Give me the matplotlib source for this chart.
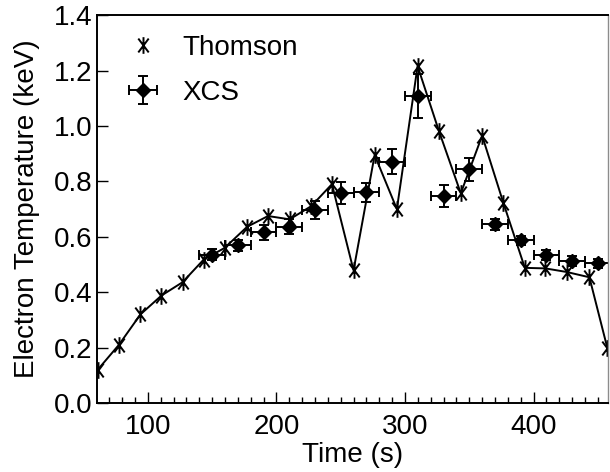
import numpy as np
import matplotlib
matplotlib.use('Agg')
import matplotlib.pyplot as plt
from matplotlib.path import Path
from matplotlib.ticker import MultipleLocator

"""Thomson scattering"""
thomson_t = [61, 77.5, 94.3, 110.6, 127, 143.5, 159.8, 177.2, 193.5, 210.3, 227.2, 243.2, 260,
             276.4, 293.7, 309.8, 326.3, 343.4, 360, 376.6, 393.2, 409.2, 425.8, 443.4, 457.4]
thomson_te = [0.12, 0.21, 0.32, 0.388, 0.436, 0.518, 0.56, 0.636, 0.675, 0.663, 0.711, 0.79, 0.479,
              0.895, 0.70, 1.216, 0.983, 0.757, 0.965, 0.721, 0.488, 0.486, 0.473, 0.454, 0.198]

"""XCS"""
xcs_t = [150, 170, 190, 210, 230, 250, 270, 290, 310, 330, 350, 370, 390, 410, 430, 450]
xcs_te = [0.536, 0.569, 0.617, 0.636, 0.697, 0.757, 0.76, 0.871, 1.108, 0.748, 0.844, 0.645,
          0.587, 0.534, 0.512, 0.504]
xcs_err = [0.02, 0.02, 0.027, 0.027, 0.032, 0.039, 0.033, 0.045, 0.078, 0.04, 0.041, 0.021,
           0.017, 0.017, 0.017, 0.017]
xcs_terr = [10] * len(xcs_t)

plt.rcParams['font.family'] = ['Liberation Sans', 'DejaVu Sans']
plt.rcParams['font.size'] = 20

# asterisk-like marker: X with a vertical stroke
verts = [(-0.75, -1), (0.75, 1), (-0.75, 1), (0.75, -1), (0, -1.2), (0, 1.2)]
codes = [Path.MOVETO, Path.LINETO] * 3
star = Path(verts, codes)

fig = plt.figure(figsize=(6.1, 4.72), dpi=100)
ax = fig.add_axes([0.159, 0.146, 0.838, 0.822])

ax.plot(thomson_t, thomson_te, color='black', lw=1.4)
ax.plot(thomson_t, thomson_te, ls='none', marker=star, ms=12, mec='black', mew=1.4,
        color='black', label='Thomson')
ax.errorbar(xcs_t, xcs_te, xerr=xcs_terr, yerr=xcs_err, fmt='D', ms=7, color='black',
            ecolor='black', elinewidth=1.4, capsize=3.5, capthick=1.4, label='XCS')

ax.set_xlim(60.5, 458)
ax.set_ylim(0, 1.4)
ax.xaxis.set_major_locator(MultipleLocator(100))
ax.xaxis.set_minor_locator(MultipleLocator(10))
ax.yaxis.set_major_locator(MultipleLocator(0.2))
ax.yaxis.set_major_formatter(matplotlib.ticker.FormatStrFormatter('%.1f'))
ax.tick_params(which='both', direction='in', top=False, right=False, width=1)
ax.tick_params(which='major', length=8)
ax.tick_params(which='minor', length=4)
ax.tick_params(axis='x', pad=8)
ax.tick_params(axis='y', pad=3)
for s in ax.spines.values():
    s.set_linewidth(1.4)
ax.spines['right'].set_linewidth(1)
ax.spines['right'].set_color('0.55')

ax.set_xlabel('Time (s)', labelpad=1)
ax.set_ylabel('Electron Temperature (keV)', labelpad=10)

ax.legend(loc='upper left', frameon=False, bbox_to_anchor=(0.02, 1.0), handlelength=1.2,
          handletextpad=0.8, borderaxespad=0.3, labelspacing=0.7, fontsize=20)

fig.savefig('out.png', dpi=100)
